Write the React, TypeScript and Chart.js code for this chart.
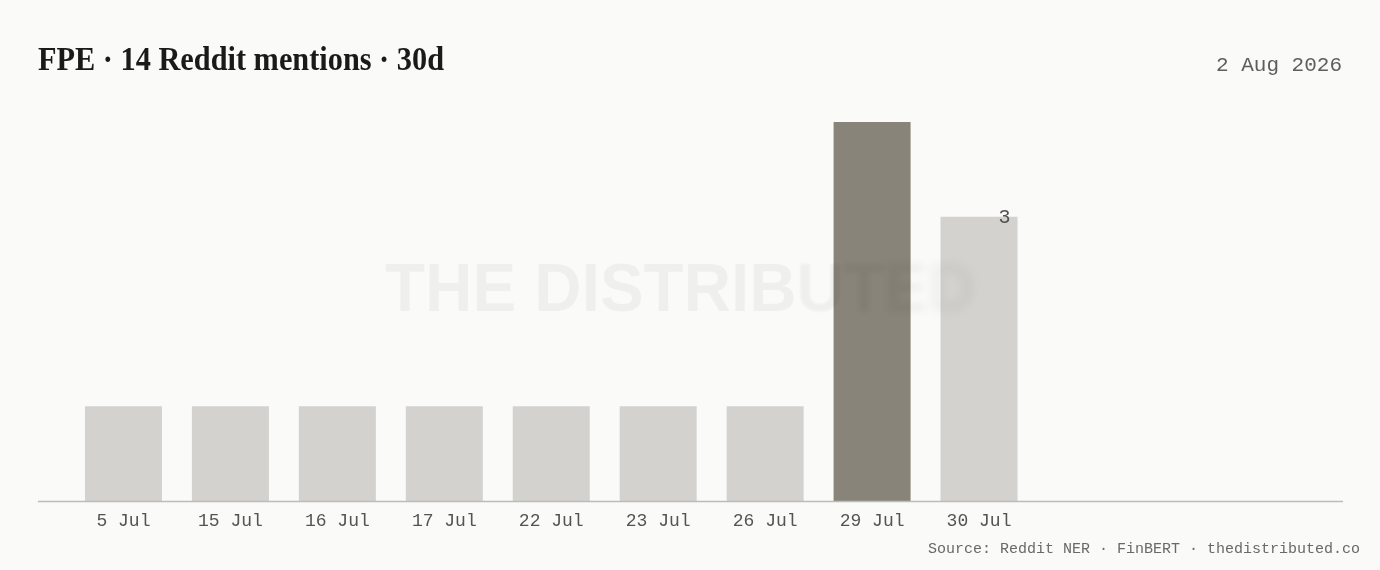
import React, { useEffect, useRef } from "react";
import { Chart, registerables } from "chart.js";

Chart.register(...registerables);

const categories = ["5 Jul", "15 Jul", "16 Jul", "17 Jul", "22 Jul", "23 Jul", "26 Jul", "29 Jul", "30 Jul"];
const mentions = [1, 1, 1, 1, 1, 1, 1, 4, 3];
const highlightIndex = 7;
const titleText = "FPE · 14 Reddit mentions · 30d";
const dateText = "2 Aug 2026";
const sourceText = "Source: Reddit NER · FinBERT · thedistributed.co";
const watermarkText = "THE DISTRIBUTED";

const BG = "#fafaf9";
const BAR = "#d3d2ce";
const BAR_HI = "#898479";
const MONO = "'Liberation Mono', 'DejaVu Sans Mono', monospace";

const decorPlugin = {
  id: "decor",
  beforeDraw(chart: any) {
    const { ctx, width, height } = chart;
    ctx.save();
    ctx.fillStyle = BG;
    ctx.fillRect(0, 0, width, height);
    ctx.restore();
  },
  afterDatasetsDraw(chart: any) {
    const { ctx, chartArea } = chart;
    ctx.save();
    // axis line
    ctx.strokeStyle = "#bdbcb9";
    ctx.lineWidth = 1.5;
    ctx.beginPath();
    ctx.moveTo(38, chartArea.bottom + 0.5);
    ctx.lineTo(1343, chartArea.bottom + 0.5);
    ctx.stroke();

    // watermark
    ctx.font = "bold 68px 'Liberation Sans', Arial, sans-serif";
    ctx.textBaseline = "alphabetic";
    ctx.textAlign = "left";
    const full = ctx.measureText(watermarkText).width;
    const sx = 590 / full;
    ctx.translate(385, 311);
    ctx.scale(sx, 1);
    ctx.fillStyle = "rgba(0,0,0,0.045)";
    let x = 0;
    for (let i = 0; i < watermarkText.length; i++) {
      const ch = watermarkText[i];
      const blur = i >= 11 ? (i - 10) * 1.2 : 0;
      ctx.filter = blur > 0 ? `blur(${blur}px)` : "none";
      ctx.fillText(ch, x, 0);
      x += ctx.measureText(ch).width;
    }
    ctx.filter = "none";
    ctx.restore();

    // value label on last bar
    const meta = chart.getDatasetMeta(0);
    const lastIdx = mentions.length - 1;
    const bar = meta.data[lastIdx];
    if (bar) {
      ctx.save();
      ctx.font = `20px ${MONO}`;
      ctx.fillStyle = "#555452";
      ctx.textAlign = "right";
      ctx.textBaseline = "middle";
      ctx.fillText(String(mentions[lastIdx]), bar.x + bar.width / 2 - 7, bar.y + 1);
      ctx.restore();
    }
  },
  afterDraw(chart: any) {
    const { ctx } = chart;
    ctx.save();
    // title
    ctx.font = "bold 34px 'Liberation Serif', 'DejaVu Serif', serif";
    ctx.fillStyle = "#1a1a1a";
    ctx.textBaseline = "alphabetic";
    ctx.textAlign = "left";
    const tw = ctx.measureText(titleText).width;
    ctx.save();
    ctx.translate(38, 70);
    ctx.scale(406 / tw, 1);
    ctx.fillText(titleText, 0, 0);
    ctx.restore();

    // date
    ctx.font = `21px ${MONO}`;
    ctx.fillStyle = "#5f5e5b";
    ctx.textAlign = "right";
    ctx.fillText(dateText, 1342, 71);

    // source
    ctx.font = `15px ${MONO}`;
    ctx.fillStyle = "#6a6966";
    ctx.fillText(sourceText, 1360, 553);
    ctx.restore();
  },
};

export default function App() {
  const canvasRef = useRef<HTMLCanvasElement | null>(null);

  useEffect(() => {
    const canvas = canvasRef.current;
    if (!canvas) return;
    const chart = new Chart(canvas, {
      type: "bar",
      data: {
        labels: categories,
        datasets: [
          {
            data: mentions,
            backgroundColor: mentions.map((_, i) => (i === highlightIndex ? BAR_HI : BAR)),
            borderWidth: 0,
            barPercentage: 0.72,
            categoryPercentage: 1,
          },
        ],
      },
      options: {
        responsive: false,
        animation: false,
        devicePixelRatio: 1,
        layout: { padding: { left: 70, right: 347.5, top: 122, bottom: 0 } },
        plugins: {
          legend: { display: false },
          tooltip: { enabled: false },
          title: { display: false },
        },
        scales: {
          x: {
            grid: { display: false, drawTicks: false },
            border: { display: false },
            ticks: {
              color: "#555452",
              font: { family: MONO, size: 18 },
              padding: 9,
              maxRotation: 0,
              autoSkip: false,
            },
            afterFit: (scale: any) => {
              scale.height = 69;
            },
          },
          y: {
            display: false,
            min: 0,
            max: 4,
          },
        },
      },
      plugins: [decorPlugin],
    });
    return () => chart.destroy();
  }, []);

  return (
    <div style={{ position: "fixed", left: 0, top: 0, width: 1380, height: 570, background: BG }}>
      <canvas ref={canvasRef} width={1380} height={570} style={{ display: "block" }} />
    </div>
  );
}
